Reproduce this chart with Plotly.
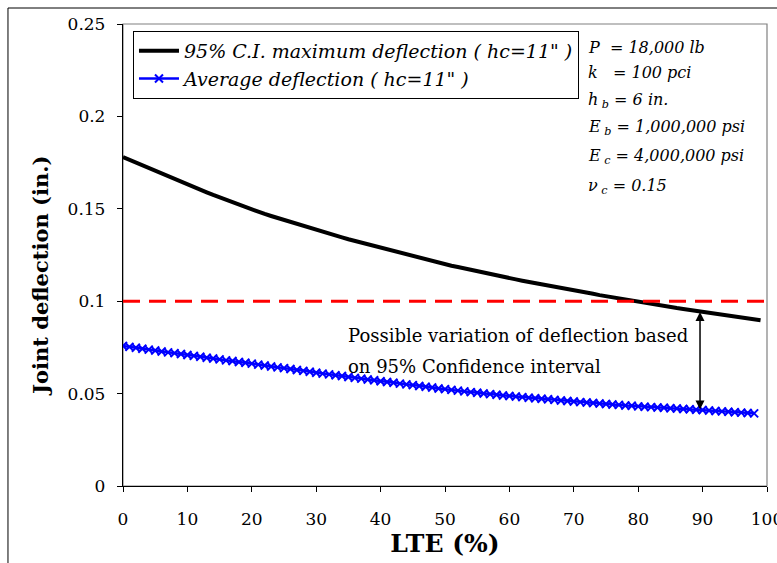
import plotly.graph_objects as go

# Load transfer efficiency, LTE (%)
lte_max = list(range(0, 100))
lte_avg = list(range(0, 99))

# 95% C.I. maximum deflection, hc = 11" (in.)
max_defl = [
    0.1780, 0.1765, 0.1750, 0.1734, 0.1719, 0.1704, 0.1690, 0.1675, 0.1660, 0.1645,
    0.1630, 0.1616, 0.1603, 0.1589, 0.1575, 0.1562, 0.1548, 0.1535, 0.1521, 0.1508,
    0.1494, 0.1483, 0.1472, 0.1461, 0.1450, 0.1440, 0.1429, 0.1418, 0.1407, 0.1396,
    0.1385, 0.1375, 0.1365, 0.1355, 0.1345, 0.1335, 0.1326, 0.1316, 0.1306, 0.1296,
    0.1286, 0.1277, 0.1269, 0.1260, 0.1252, 0.1243, 0.1234, 0.1226, 0.1217, 0.1209,
    0.1200, 0.1192, 0.1185, 0.1177, 0.1170, 0.1162, 0.1154, 0.1147, 0.1139, 0.1132,
    0.1124, 0.1118, 0.1111, 0.1105, 0.1098, 0.1092, 0.1086, 0.1079, 0.1073, 0.1066,
    0.1060, 0.1053, 0.1047, 0.1040, 0.1033, 0.1027, 0.1020, 0.1014, 0.1007, 0.1001,
    0.0994, 0.0989, 0.0984, 0.0979, 0.0974, 0.0969, 0.0963, 0.0958, 0.0953, 0.0948,
    0.0943, 0.0938, 0.0932, 0.0927, 0.0921, 0.0916, 0.0911, 0.0905, 0.0900, 0.0897,
]

# Average deflection, hc = 11" (in.)
avg_defl = [
    0.0758, 0.0753, 0.0748, 0.0743, 0.0738, 0.0733, 0.0728, 0.0723, 0.0719, 0.0714,
    0.0709, 0.0704, 0.0699, 0.0694, 0.0690, 0.0685, 0.0680, 0.0676, 0.0671, 0.0667,
    0.0662, 0.0657, 0.0652, 0.0647, 0.0642, 0.0638, 0.0633, 0.0628, 0.0623, 0.0618,
    0.0613, 0.0608, 0.0604, 0.0599, 0.0595, 0.0590, 0.0585, 0.0581, 0.0576, 0.0572,
    0.0567, 0.0563, 0.0559, 0.0554, 0.0550, 0.0546, 0.0541, 0.0537, 0.0533, 0.0528,
    0.0524, 0.0520, 0.0516, 0.0512, 0.0508, 0.0505, 0.0501, 0.0497, 0.0494, 0.0490,
    0.0487, 0.0484, 0.0481, 0.0478, 0.0475, 0.0472, 0.0469, 0.0466, 0.0463, 0.0460,
    0.0457, 0.0454, 0.0452, 0.0449, 0.0446, 0.0444, 0.0441, 0.0439, 0.0436, 0.0434,
    0.0431, 0.0429, 0.0427, 0.0425, 0.0423, 0.0421, 0.0419, 0.0417, 0.0415, 0.0413,
    0.0411, 0.0409, 0.0406, 0.0404, 0.0402, 0.0399, 0.0397, 0.0395, 0.0393,
]

# Deflection limit and where the variation arrow is drawn
limit_x = [0, 100]
limit_y = [0.1, 0.1]
arrow_lte = 89.6
arrow_top = 0.0949
arrow_bottom = 0.0414

x_ticks = [0, 10, 20, 30, 40, 50, 60, 70, 80, 90, 100]
y_ticks = [0, 0.05, 0.1, 0.15, 0.2, 0.25]
y_tick_text = ["0", "0.05", "0.1", "0.15", "0.2", "0.25"]

params = [
    "P  = 18,000 lb",
    "k   = 100 pci",
    "h<sub> b</sub> = 6 in.",
    "E<sub> b</sub> = 1,000,000 psi",
    "E<sub> c</sub> = 4,000,000 psi",
    "ν<sub> c</sub> = 0.15",
]
param_y = [0.950, 0.896, 0.835, 0.777, 0.714, 0.649]

note_lines = ["Possible variation of deflection based", "on 95% Confidence interval"]
note_y = [0.3247, 0.2597]

SERIF = "DejaVu Serif"

fig = go.Figure()

fig.add_trace(go.Scatter(
    x=lte_max, y=max_defl, mode="lines",
    name="95% C.I. maximum deflection ( hc=11\" )",
    line=dict(color="black", width=4),
))
fig.add_trace(go.Scatter(
    x=lte_avg, y=avg_defl, mode="lines+markers",
    name="Average deflection ( hc=11\" )",
    line=dict(color="#0000FF", width=2.5),
    marker=dict(symbol="x-thin", size=8, line=dict(color="#0000FF", width=2)),
))
fig.add_trace(go.Scatter(
    x=limit_x, y=limit_y, mode="lines",
    line=dict(color="#FF0000", width=3, dash="17px,9px"),
    showlegend=False, hoverinfo="skip",
))

annotations = []
for txt, yy in zip(params, param_y):
    annotations.append(dict(
        x=0.7190, y=yy, xref="paper", yref="paper",
        xanchor="left", yanchor="middle", showarrow=False,
        text=txt, font=dict(family=SERIF, size=16, color="black", style="italic"),
    ))

for txt, yy in zip(note_lines, note_y):
    annotations.append(dict(
        x=0.3455, y=yy, xref="paper", yref="paper",
        xanchor="left", yanchor="middle", showarrow=False,
        text=txt, font=dict(family=SERIF, size=18, color="black"),
    ))

# y-axis title
annotations.append(dict(
    x=-0.129, y=0.4545, xref="paper", yref="paper",
    xanchor="center", yanchor="middle", showarrow=False, textangle=-90,
    text="<b>Joint deflection (in.)</b>",
    font=dict(family=SERIF, size=21, color="black"),
))

annotations.append(dict(
    x=arrow_lte, y=arrow_bottom, ax=arrow_lte, ay=arrow_top,
    xref="x", yref="y", axref="x", ayref="y",
    text="", showarrow=True, arrowside="end+start",
    arrowhead=2, startarrowhead=2, arrowsize=1.2, startarrowsize=1.2,
    arrowwidth=1.5, arrowcolor="black",
))

shapes = [
    # plot-area frame (grey on top and right)
    dict(type="rect", xref="paper", yref="paper", x0=0, y0=0, x1=1, y1=1,
         line=dict(color="#808080", width=1.2), layer="below"),
    # outer chart frame
    dict(type="rect", xref="paper", yref="paper",
         x0=-0.1786, y0=-0.4, x1=1.2, y1=1.0346,
         line=dict(color="black", width=1), layer="below"),
]

fig.update_layout(
    width=777, height=563,
    margin=dict(l=123, r=10, t=24, b=77, autoexpand=False),
    paper_bgcolor="white", plot_bgcolor="white",
    showlegend=True,
    legend=dict(
        x=0.0155, y=0.985, xanchor="left", yanchor="top",
        bordercolor="black", borderwidth=1, bgcolor="white",
        font=dict(family=SERIF, size=19, color="black", style="italic"),
        itemwidth=40,
    ),
    annotations=annotations,
    shapes=shapes,
)

fig.update_xaxes(
    range=[0, 100], tickvals=x_ticks, ticktext=[str(v) for v in x_ticks],
    showgrid=False, zeroline=False, automargin=False,
    showline=True, linecolor="black", linewidth=1.3,
    ticks="outside", ticklen=5, tickwidth=1, tickcolor="black",
    ticklabelstandoff=12, ticklabeloverflow="allow",
    tickfont=dict(family=SERIF, size=17, color="black"),
    title=dict(text="<b>LTE (%)</b>", font=dict(family=SERIF, size=25, color="black"),
               standoff=4),
)
fig.update_yaxes(
    range=[0, 0.25], tickvals=y_ticks, ticktext=y_tick_text,
    showgrid=False, zeroline=False, automargin=False,
    showline=True, linecolor="black", linewidth=1.3,
    ticks="outside", ticklen=5, tickwidth=1, tickcolor="black",
    ticklabelstandoff=8,
    tickfont=dict(family=SERIF, size=17, color="black"),
)

fig.write_html("out.html")
